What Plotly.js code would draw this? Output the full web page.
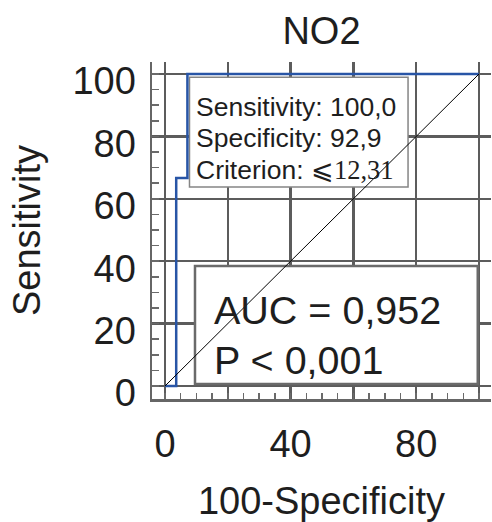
<!DOCTYPE html>
<html>
<head>
<meta charset="utf-8">
<script src="https://cdn.plot.ly/plotly-3.0.1.min.js"></script>
<style>html,body{margin:0;padding:0;background:#fff;}#chart{width:492px;height:522px;}</style>
</head>
<body>
<div id="chart"></div>
<script>
// ---- data ----
const chartTitle = 'NO2';
const xTitle = '100-Specificity';
const yTitle = 'Sensitivity';
const rocX = [0, 3.57, 3.57, 7.14, 7.14, 100];
const rocY = [0, 0, 66.67, 66.67, 100, 100];
const diagX = [0, 100];
const diagY = [0, 100];
const xTickVals = [0, 20, 40, 60, 80, 100];
const xTickText = ['0', '', '40', '', '80', ''];
const yTickVals = [0, 20, 40, 60, 80, 100];
const yTickText = ['0', '20', '40', '60', '80', '100'];
const sensText = 'Sensitivity: 100,0';
const specText = 'Specificity: 92,9';
const critLabel = 'Criterion: ';
const critValue = '\u2A7D12,31';
const aucText = 'AUC = 0,952';
const pText = 'P &lt; 0,001';

// ---- style ----
const SANS = 'Liberation Sans, Arial, Helvetica, sans-serif';
const SERIF = 'Liberation Serif, DejaVu Serif, Times New Roman, serif';
const TXT = '#1e1e1e';
const GRID = '#5c5c5c';

const traces = [
  {x: rocX, y: rocY, type: 'scatter', mode: 'lines',
   line: {color: '#2855a6', width: 2.5}, hoverinfo: 'skip', showlegend: false},
  {x: diagX, y: diagY, type: 'scatter', mode: 'lines',
   line: {color: '#000000', width: 1}, hoverinfo: 'skip', showlegend: false}
];

const layout = {
  width: 492, height: 522,
  margin: {l: 152, r: 1, t: 62, b: 123, pad: 0},
  paper_bgcolor: '#ffffff', plot_bgcolor: '#ffffff',
  font: {family: SANS, color: TXT},
  showlegend: false,
  title: {text: chartTitle, font: {family: SANS, size: 38, color: TXT},
          xref: 'paper', x: 0.5, xanchor: 'center',
          yref: 'container', y: 1 - 31/522, yanchor: 'middle'},
  xaxis: {
    range: [-4.14, 103.82], fixedrange: true,
    tickmode: 'array', tickvals: xTickVals, ticktext: xTickText,
    ticks: '', showgrid: true, gridcolor: GRID, gridwidth: 2.5,
    zeroline: false, showline: true, linecolor: '#666666', linewidth: 2.5,
    tickfont: {family: SANS, size: 38, color: TXT},
    ticklabelstandoff: 10,
    minor: {tickmode: 'linear', tick0: 0, dtick: 5, ticks: 'inside', ticklen: 6,
            tickwidth: 1.5, tickcolor: '#6a6a6a', showgrid: false},
    title: {text: xTitle, font: {family: SANS, size: 38, color: TXT}, standoff: 30}
  },
  yaxis: {
    range: [-4.17, 103.85], fixedrange: true,
    tickmode: 'array', tickvals: yTickVals, ticktext: yTickText,
    ticks: '', showgrid: true, gridcolor: GRID, gridwidth: 2.5,
    zeroline: false, showline: true, linecolor: '#666666', linewidth: 2.5,
    tickfont: {family: SANS, size: 38, color: TXT},
    ticklabelstandoff: 6, ticklabelshift: 7,
    minor: {tickmode: 'linear', tick0: 0, dtick: 5, ticks: 'inside', ticklen: 7,
            tickwidth: 1.5, tickcolor: '#6a6a6a', showgrid: false},
    title: {text: yTitle, font: {family: SANS, size: 38, color: TXT}, standoff: 20}
  },
  shapes: [
    {type: 'rect', layer: 'between', xref: 'x', yref: 'y',
     x0: 7.8, x1: 77.4, y0: 63.8, y1: 99.0,
     fillcolor: '#ffffff', line: {color: '#858585', width: 1.5}},
    {type: 'rect', layer: 'between', xref: 'x', yref: 'y',
     x0: 9.55, x1: 99.6, y0: 0.6, y1: 38.5,
     fillcolor: '#ffffff', line: {color: '#6a6a6a', width: 2.5}}
  ],
  annotations: [
    {text: sensText, xref: 'x', yref: 'y', x: 9.6, y: 89.4, xanchor: 'left', yanchor: 'middle',
     showarrow: false, borderpad: 0, font: {family: SANS, size: 26.5, color: TXT}},
    {text: specText, xref: 'x', yref: 'y', x: 9.6, y: 79.5, xanchor: 'left', yanchor: 'middle',
     showarrow: false, borderpad: 0, font: {family: SANS, size: 26.5, color: TXT}},
    {text: critLabel + '<span style="font-family:' + SERIF + '">' + critValue + '</span>',
     xref: 'x', yref: 'y', x: 9.6, y: 69.2, xanchor: 'left', yanchor: 'middle',
     showarrow: false, borderpad: 0, font: {family: SANS, size: 26.5, color: TXT}},
    {text: aucText, xref: 'x', yref: 'y', x: 15.4, y: 24.4, xanchor: 'left', yanchor: 'middle',
     showarrow: false, borderpad: 0, font: {family: SANS, size: 39.5, color: TXT}},
    {text: pText, xref: 'x', yref: 'y', x: 15.4, y: 8.3, xanchor: 'left', yanchor: 'middle',
     showarrow: false, borderpad: 0, font: {family: SANS, size: 39.5, color: TXT}}
  ]
};

Plotly.newPlot('chart', traces, layout, {staticPlot: true, displayModeBar: false});
</script>
</body>
</html>
